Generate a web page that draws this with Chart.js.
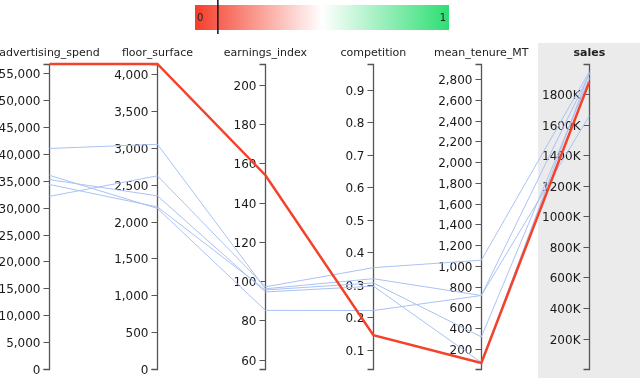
<!DOCTYPE html>
<html>
<head>
<meta charset="utf-8">
<script src="https://cdn.jsdelivr.net/npm/chart.js@4.4.1/dist/chart.umd.min.js"></script>
<style>
  html, body { margin: 0; padding: 0; background: #fff; }
</style>
</head>
<body>
<canvas id="pc" width="640" height="378"></canvas>
<script>
// axes, left to right
const dimensions = ['advertising_spend', 'floor_surface', 'earnings_index', 'competition', 'mean_tenure_MT', 'sales'];

// axis domains and tick steps
const axisMin = [0, 0, 55.2, 0.04, 7, 1000];
const axisMax = [56700, 4140, 210.7, 0.979, 2945, 1997000];
const axisStep = [5000, 500, 20, 0.1, 200, 200000];

// one row per store
const highlighted = [56700, 4140, 154, 0.144, 65, 1880000];
const storeA = [41000, 3050, 96.1, 0.318, 715, 1931000];
const storeB = [32100, 2622, 97.1, 0.352, 1055, 1946000];
const storeC = [35200, 2350, 94.5, 0.295, 70, 1940000];
const storeD = [36000, 2180, 85.1, 0.220, 715, 1658000];
const storeE = [34300, 2200, 95.5, 0.305, 316, 1903000];
const others = [storeA, storeB, storeC, storeD, storeE];

// colour scale on top
const legendRange = [0, 1];
const legendMarker = 0.09;

const FONT = '"DejaVu Sans", Verdana, sans-serif';

// put every axis on a shared 0..1 scale
function toShared(row) {
    return row.map((v, i) => ({ x: dimensions[i], y: (v - axisMin[i]) / (axisMax[i] - axisMin[i]) }));
}

function fmt(i, v) {
    if (i === 5) return Math.round(v / 1000) + 'K';
    if (i === 3) return v.toFixed(1);
    return Math.round(v).toLocaleString('en-US');
}

const dimScales = {};
dimensions.forEach((d, i) => {
    dimScales['d' + i] = {
        type: 'linear', axis: 'y', display: false,
        min: axisMin[i], max: axisMax[i],
        ticks: { stepSize: axisStep[i], autoSkip: false },
        // chart.js rounds big steps oddly, so lay the ticks on the step grid
        afterBuildTicks: s => {
            const ticks = [];
            const k0 = Math.ceil(axisMin[i] / axisStep[i] - 1e-9);
            for (let k = k0; k * axisStep[i] <= axisMax[i] + 1e-9; k++) {
                ticks.push({ value: +(k * axisStep[i]).toFixed(6) });
            }
            s.ticks = ticks;
        }
    };
});

const parallelAxes = {
    id: 'parallelAxes',
    beforeDraw(chart) {
        const ctx = chart.ctx;
        const xs = chart.scales.x;
        ctx.save();
        // shaded target column
        const gx = Math.round(xs.getPixelForValue(5) - 51);
        ctx.fillStyle = '#ebebeb';
        ctx.fillRect(gx, 43, chart.width - gx, chart.height - 43);

        // colour legend
        const lx = 195, lw = 254, ly = 5, lh = 25;
        const g = ctx.createLinearGradient(lx, 0, lx + lw, 0);
        g.addColorStop(0, 'rgb(245,61,42)');
        g.addColorStop(0.5, 'rgb(255,255,255)');
        g.addColorStop(1, 'rgb(46,222,115)');
        ctx.fillStyle = g;
        ctx.fillRect(lx, ly, lw, lh);
        ctx.fillStyle = '#222';
        ctx.font = '10px ' + FONT;
        ctx.textBaseline = 'alphabetic';
        ctx.textAlign = 'left';
        ctx.fillText(String(legendRange[0]), lx + 2, 21);
        ctx.textAlign = 'right';
        ctx.fillText(String(legendRange[1]), lx + lw - 3, 21);
        const mx = lx + lw * (legendMarker - legendRange[0]) / (legendRange[1] - legendRange[0]);
        ctx.strokeStyle = '#111';
        ctx.lineWidth = 1.5;
        ctx.beginPath();
        ctx.moveTo(mx, 0);
        ctx.lineTo(mx, 34);
        ctx.stroke();

        // column headers
        ctx.textAlign = 'center';
        dimensions.forEach((d, i) => {
            ctx.font = (i === 5 ? 'bold ' : '') + '11px ' + FONT;
            ctx.fillStyle = '#222';
            ctx.fillText(d, xs.getPixelForValue(i), 56);
        });
        ctx.restore();
    },
    beforeDatasetsDraw(chart) {
        const ctx = chart.ctx;
        const xs = chart.scales.x;
        ctx.save();
        ctx.font = '12px ' + FONT;
        ctx.textAlign = 'right';
        ctx.textBaseline = 'alphabetic';
        dimensions.forEach((d, i) => {
            const s = chart.scales['d' + i];
            const px = Math.round(xs.getPixelForValue(i) - 0.5) + 0.5;
            const top = Math.round(s.getPixelForValue(axisMax[i])) + 0.5;
            const bot = Math.round(s.getPixelForValue(axisMin[i])) + 0.5;
            ctx.strokeStyle = '#555';
            ctx.lineWidth = 1.3;
            ctx.beginPath();
            ctx.moveTo(px - 6, top);
            ctx.lineTo(px, top);
            ctx.lineTo(px, bot);
            ctx.lineTo(px - 6, bot);
            ctx.stroke();
            ctx.lineWidth = 1;
            s.ticks.forEach(t => {
                const py = Math.round(s.getPixelForValue(t.value)) + 0.5;
                ctx.beginPath();
                ctx.moveTo(px - 6, py);
                ctx.lineTo(px, py);
                ctx.stroke();
                ctx.fillStyle = '#1a1a1a';
                ctx.fillText(fmt(i, t.value), px - 9, py + 4);
            });
        });
        ctx.restore();
    }
};

const datasets = others.map(row => ({
    data: toShared(row),
    borderColor: '#aac2f4',
    borderWidth: 1,
    pointRadius: 0,
    tension: 0,
    clip: false,
    order: 1
}));
datasets.push({
    data: toShared(highlighted),
    borderColor: '#f4422a',
    borderWidth: 2.5,
    pointRadius: 0,
    tension: 0,
    clip: false,
    order: 0
});

new Chart(document.getElementById('pc'), {
    type: 'line',
    data: { labels: dimensions, datasets: datasets },
    options: {
        responsive: false,
        animation: false,
        devicePixelRatio: 1,
        events: [],
        layout: { padding: { top: 64, bottom: 9, left: 49.5, right: 50.7 } },
        plugins: { legend: { display: false }, tooltip: { enabled: false } },
        scales: Object.assign({
            x: { type: 'category', display: false, offset: false },
            y: { min: 0, max: 1, display: false }
        }, dimScales)
    },
    plugins: [parallelAxes]
});
</script>
</body>
</html>
